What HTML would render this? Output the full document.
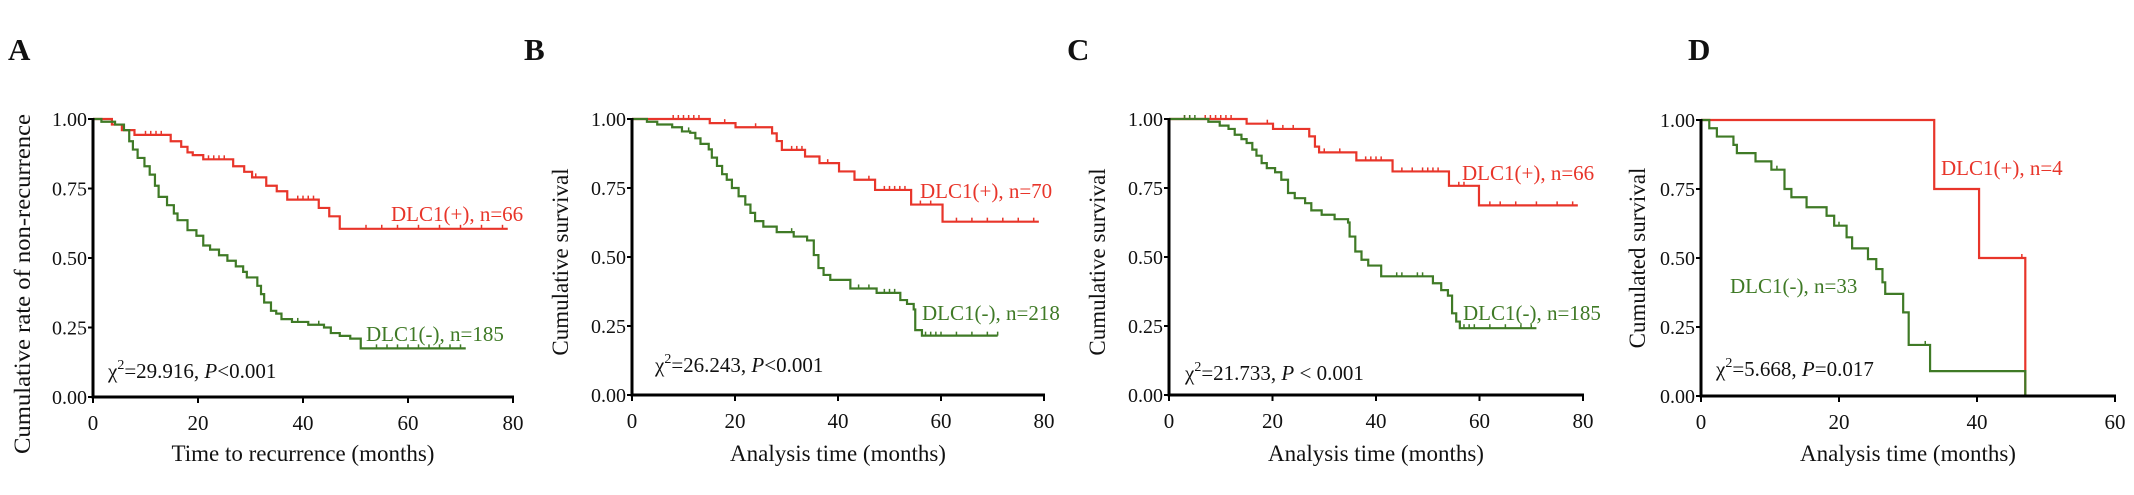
<!DOCTYPE html>
<html><head><meta charset="utf-8"><style>
html,body{margin:0;padding:0;background:#fff}
svg{display:block}
text{font-family:"Liberation Serif",serif;fill:#111}
</style></head><body>
<svg id="fig" width="2134" height="495" viewBox="0 0 2134 495" xmlns="http://www.w3.org/2000/svg"></svg>
<script>
// ---- Data (time in months, survival fraction) ----
const xTicksA = [0,20,40,60,80];
const xTicksD = [0,20,40,60];
const yTicks = [0,0.25,0.5,0.75,1];
const yTickLabels = ["0.00","0.25","0.50","0.75","1.00"];

const aRedT = [0,3.6,5.5,7.9,14.8,16.8,18,19,21,26.7,28.8,30.3,33,35,37,43,45,47];
const aRedS = [1,0.98,0.96,0.943,0.92,0.9,0.88,0.87,0.855,0.83,0.81,0.79,0.76,0.74,0.71,0.68,0.65,0.605];
const aRedEnd = 79;
const aRedCens = [10,11,12,13,22,23,24,25,31,39,40,41,42,52,55,58,62,66,70,74,78];
const aGrnT = [0,1.6,4.2,5.9,6.9,7.6,8.5,9.8,10.8,11.8,12.5,14.1,15.4,16.1,18,19.7,21,22.3,24,25.6,27.2,28.6,29.3,31.3,32,32.6,33.9,34.9,35.9,37.9,41,44,45.3,47,49,51];
const aGrnS = [1,0.99,0.98,0.96,0.92,0.89,0.86,0.83,0.8,0.76,0.72,0.69,0.66,0.636,0.6,0.58,0.545,0.53,0.51,0.49,0.47,0.45,0.43,0.4,0.37,0.34,0.31,0.3,0.28,0.27,0.26,0.25,0.23,0.22,0.21,0.175];
const aGrnEnd = 71;
const aGrnCens = [39,43,54,56,58,60,62,64,66,68,70];

const bRedT = [0,15.1,20.1,27.2,28.1,29.1,33.6,36.4,40.2,43.2,47.2,54.2,60.3];
const bRedS = [1,0.985,0.97,0.948,0.92,0.888,0.864,0.84,0.81,0.78,0.743,0.69,0.628];
const bRedEnd = 79;
const bRedCens = [8,9,10,11,12,13,18,24,31,32,33,38,46,49,50,51,52,53,56,58,63,66,69,72,75,78];
const bGrnT = [0,2.9,4.9,7.8,9.7,11.3,12.3,13.3,14.9,15.5,16.5,17.5,18.4,19.4,20.7,22,23,23.9,25.5,28.1,31.4,34,35.3,36.2,37.2,38.5,42.4,47.5,52.1,53.4,54.7,55,56.3];
const bGrnS = [1,0.99,0.98,0.97,0.955,0.95,0.93,0.91,0.89,0.86,0.83,0.8,0.78,0.75,0.72,0.69,0.66,0.63,0.61,0.59,0.574,0.56,0.507,0.46,0.435,0.417,0.386,0.37,0.344,0.33,0.31,0.235,0.215];
const bGrnEnd = 71;
const bGrnCens = [11,31,44,46,49,50,51,57,58,59,60,63,66,69,71];

const cRedT = [0,15,20.1,27.1,28.2,29,36.2,43.2,54.1,59.9];
const cRedS = [1,0.983,0.964,0.937,0.9,0.879,0.85,0.81,0.758,0.687];
const cRedEnd = 79;
const cRedCens = [3,4,7,8,9,10,11,12,19,22,24,30,33,38,39,40,41,45,47,49,50,51,52,56,57,62,64,67,71,75,78];
const cGrnT = [0,7.6,9.8,11.5,12.7,14,15,16.1,16.9,17.9,18.9,20.5,21.7,23,24.3,26.3,27.5,29.5,32,34.6,34.9,36,37.2,38.5,41,51,52.6,53.9,54.7,55.5,56.2];
const cGrnS = [1,0.99,0.976,0.964,0.943,0.927,0.913,0.889,0.867,0.84,0.822,0.807,0.78,0.732,0.713,0.695,0.669,0.653,0.637,0.625,0.574,0.52,0.49,0.469,0.43,0.405,0.38,0.36,0.296,0.266,0.242];
const cGrnEnd = 71;
const cGrnCens = [3,4,5,44,45,48,49,57,58,59,62,65,68,70];

const dRedT = [0,33.8,40.3,47];
const dRedS = [1,0.75,0.5,0];
const dRedEnd = 47;
const dRedCens = [46.5];
const dGrnT = [0,1.2,2.3,4.7,5.2,7.9,10.2,12.1,13.1,15.3,18.2,19.3,21.1,21.9,24.2,25.4,26.3,26.7,29.3,30.1,33.2,47];
const dGrnS = [1,0.97,0.94,0.91,0.88,0.85,0.82,0.75,0.72,0.684,0.653,0.617,0.575,0.535,0.496,0.46,0.412,0.37,0.303,0.185,0.09,0];
const dGrnEnd = 47;
const dGrnCens = [11,20,32.5];

const NS = "http://www.w3.org/2000/svg";
const svg = document.getElementById('fig');
const RED = "#e8352a", GREEN = "#3f7a26";

function el(tag, attrs, parent){
  const e = document.createElementNS(NS, tag);
  for (const k in attrs) e.setAttribute(k, attrs[k]);
  (parent||svg).appendChild(e);
  return e;
}

function panel(cfg){
  const g = el('g', {});
  
  
  const sx = v => cfg.x0 + (v / cfg.xmax) * (cfg.x1 - cfg.x0);
  const sy = v => cfg.y0 - v * (cfg.y0 - cfg.y1);

  // series
  function series(T, S, end, cens, color, name){
    let d = `M${sx(T[0])},${sy(S[0])}`;
    for (let i = 1; i < T.length; i++) {
      d += ` H${sx(T[i])} V${sy(S[i])}`;
    }
    d += ` H${sx(end)}`;
    const p = el('path', {d:d, fill:'none', stroke:color, 'stroke-width':2.2}, g);
    
    
    // censor marks
    cens.forEach(t => {
      let s = S[0];
      for (let i = 0; i < T.length; i++) if (T[i] <= t) s = S[i];
      const m = el('line', {x1:sx(t), x2:sx(t), y1:sy(s), y2:sy(s)-4, stroke:color, 'stroke-width':1.5}, g);
      
      
    });
  }
  series(cfg.redT, cfg.redS, cfg.redEnd, cfg.redC, RED, 'dlc1-positive');
  series(cfg.grnT, cfg.grnS, cfg.grnEnd, cfg.grnC, GREEN, 'dlc1-negative');

  // axes
  const ya = el('line', {x1:cfg.x0, x2:cfg.x0, y1:cfg.y1-1, y2:cfg.y0+1.5, stroke:'#000','stroke-width':3}, g);
  
  
  const xa = el('line', {x1:cfg.x0-1.5, x2:cfg.x1+1, y1:cfg.y0, y2:cfg.y0, stroke:'#000','stroke-width':3}, g);
  
  

  yTicks.forEach((v, i) => {
    el('line', {x1:cfg.x0-5, x2:cfg.x0, y1:sy(v), y2:sy(v), stroke:'#000','stroke-width':2}, g);
    const t = el('text', {x:cfg.x0-6, y:sy(v)+7, 'text-anchor':'end', 'font-size':20}, g);
    t.textContent = yTickLabels[i];
    
    
  });
  cfg.xticks.forEach(v => {
    el('line', {x1:sx(v), x2:sx(v), y1:cfg.y0, y2:cfg.y0+6, stroke:'#000','stroke-width':2}, g);
    const t = el('text', {x:sx(v), y:cfg.y0+33, 'text-anchor':'middle', 'font-size':21}, g);
    t.textContent = v;
    
    
  });

  // titles
  const xt = el('text', {x:(cfg.x0+cfg.x1)/2, y:461, 'text-anchor':'middle', 'font-size':23}, g);
  xt.textContent = cfg.xtitle;
  
  
  const ytt = el('text', {x:0, y:0, 'text-anchor':'middle', 'font-size':23,
    transform:`translate(${cfg.ytx},${cfg.yty}) rotate(-90)`}, g);
  ytt.textContent = cfg.ytitle;
  if (cfg.ytlen) { ytt.setAttribute('textLength', cfg.ytlen); ytt.setAttribute('lengthAdjust','spacingAndGlyphs'); }
  
  

  const letter = el('text', {x:cfg.lx, y:60, 'font-size':31, 'font-weight':'bold'}, g);
  letter.textContent = cfg.id;
  
  

  // labels
  const rl = el('text', {x:cfg.rl[0], y:cfg.rl[1], 'font-size':21, style:'fill:'+RED}, g);
  rl.textContent = cfg.rlText;
  
  
  const gl = el('text', {x:cfg.gl[0], y:cfg.gl[1], 'font-size':21, style:'fill:'+GREEN}, g);
  gl.textContent = cfg.glText;
  
  

  const st = el('text', {x:cfg.cx, y:cfg.cy, 'font-size':21}, g);
  
  
  const a = el('tspan', {}, st); a.textContent = 'χ';
  const b = el('tspan', {dy:-9, 'font-size':14}, st); b.textContent = '2';
  const c = el('tspan', {dy:9}, st); c.textContent = '=' + cfg.chi + ', ';
  const d = el('tspan', {'font-style':'italic'}, st); d.textContent = 'P';
  const e = el('tspan', {}, st); e.textContent = cfg.p;
}

panel({id:'A', x0:93, x1:513, y1:119, y0:397, xmax:80, xticks:xTicksA,
  redT:aRedT, redS:aRedS, redEnd:aRedEnd, redC:aRedCens,
  grnT:aGrnT, grnS:aGrnS, grnEnd:aGrnEnd, grnC:aGrnCens,
  xtitle:'Time to recurrence (months)', ytitle:'Cumulative rate of non-recurrence',
  ytx:30, yty:284, ytlen:340, lx:8,
  rl:[391,221], rlText:'DLC1(+), n=66', gl:[366,341], glText:'DLC1(-), n=185',
  cx:108, cy:378, chi:'29.916', p:'<0.001'});

panel({id:'B', x0:632, x1:1044, y1:119, y0:395, xmax:80, xticks:xTicksA,
  redT:bRedT, redS:bRedS, redEnd:bRedEnd, redC:bRedCens,
  grnT:bGrnT, grnS:bGrnS, grnEnd:bGrnEnd, grnC:bGrnCens,
  xtitle:'Analysis time (months)', ytitle:'Cumulative survival',
  ytx:568, yty:262, ytlen:0, lx:524,
  rl:[920,198], rlText:'DLC1(+), n=70', gl:[922,320], glText:'DLC1(-), n=218',
  cx:655, cy:372, chi:'26.243', p:'<0.001'});

panel({id:'C', x0:1169, x1:1583, y1:119, y0:395, xmax:80, xticks:xTicksA,
  redT:cRedT, redS:cRedS, redEnd:cRedEnd, redC:cRedCens,
  grnT:cGrnT, grnS:cGrnS, grnEnd:cGrnEnd, grnC:cGrnCens,
  xtitle:'Analysis time (months)', ytitle:'Cumulative survival',
  ytx:1105, yty:262, ytlen:0, lx:1067,
  rl:[1462,180], rlText:'DLC1(+), n=66', gl:[1463,320], glText:'DLC1(-), n=185',
  cx:1185, cy:380, chi:'21.733', p:' < 0.001'});

panel({id:'D', x0:1701, x1:2115, y1:120, y0:396, xmax:60, xticks:xTicksD,
  redT:dRedT, redS:dRedS, redEnd:dRedEnd, redC:dRedCens,
  grnT:dGrnT, grnS:dGrnS, grnEnd:dGrnEnd, grnC:dGrnCens,
  xtitle:'Analysis time (months)', ytitle:'Cumulated survival',
  ytx:1645, yty:258, ytlen:0, lx:1688,
  rl:[1941,175], rlText:'DLC1(+), n=4', gl:[1730,293], glText:'DLC1(-), n=33',
  cx:1716, cy:376, chi:'5.668', p:'=0.017'});
</script>
</body></html>
